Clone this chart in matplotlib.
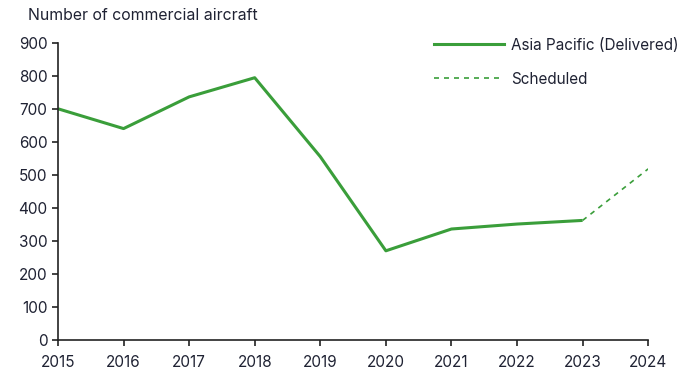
import matplotlib.pyplot as plt
from matplotlib.lines import Line2D

# 亚太地区商用飞机交付量
years = [2015, 2016, 2017, 2018, 2019, 2020, 2021, 2022, 2023]
delivered = [700, 640, 736, 794, 555, 270, 336, 351, 362]
sched_years = [2023, 2024]
scheduled = [362, 518]

green = '#3a9e3a'
txt = '#1f2233'

plt.rcParams['font.family'] = ['Inter', 'DejaVu Sans']
plt.rcParams['font.size'] = 11

fig = plt.figure(figsize=(6.96, 3.73), dpi=100)
ax = fig.add_axes([0.0833, 0.0885, 0.848, 0.797])

ax.plot(years, delivered, color=green, linewidth=2.2, solid_capstyle='butt')
ax.plot(sched_years, scheduled, color=green, linewidth=1.2, linestyle=(0, (3, 3)))

ax.set_xlim(2015, 2024)
ax.set_ylim(0, 900)
ax.set_xticks(range(2015, 2025))
ax.set_yticks(range(0, 901, 100))

for s in ['top', 'right']:
    ax.spines[s].set_visible(False)
for s in ['left', 'bottom']:
    ax.spines[s].set_color('#222222')
    ax.spines[s].set_linewidth(1.2)
ax.tick_params(axis='both', colors='#222222', labelcolor=txt, length=4, width=1.2, labelsize=11)
ax.tick_params(axis='x', pad=7)

fig.text(0.04, 0.958, 'Number of commercial aircraft', color=txt, fontsize=11.4, va='center')

handles = [Line2D([], [], color=green, linewidth=2.2),
           Line2D([], [], color=green, linewidth=1.2, linestyle=(0, (3, 3)))]
fig.legend(handles, ['Asia Pacific (Delivered)', 'Scheduled'], loc='upper left',
           bbox_to_anchor=(0.6035, 0.936), bbox_transform=fig.transFigure,
           frameon=False, handlelength=4.6, labelspacing=1.25, handletextpad=0.45,
           labelcolor=txt, fontsize=11)

fig.savefig('out.png', dpi=100)
